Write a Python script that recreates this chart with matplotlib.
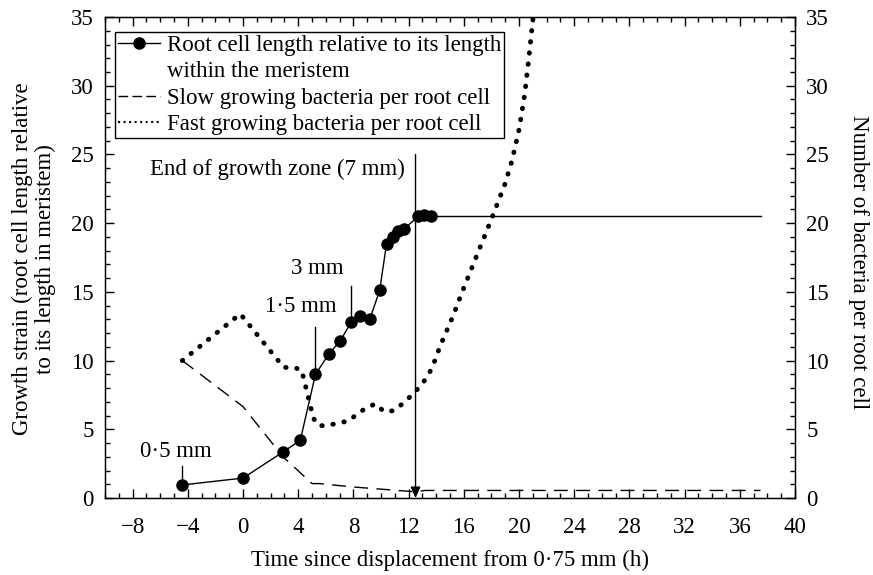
import numpy as np
import matplotlib
matplotlib.use("Agg")
import matplotlib.pyplot as plt
from matplotlib.lines import Line2D

plt.rcParams['font.family'] = ['Liberation Serif', 'DejaVu Serif']
plt.rcParams['font.size'] = 16.5

# 根细胞长度（相对分生组织内长度）
root_x = [-4.4, 0.0, 2.9, 4.15, 5.25, 6.2, 7.05, 7.85, 8.5, 9.2, 9.9, 10.4, 10.9, 11.2, 11.7, 12.7, 13.1, 13.6]
root_y = [0.95, 1.45, 3.35, 4.2, 9.0, 10.45, 11.45, 12.8, 13.25, 13.05, 15.1, 18.5, 19.0, 19.4, 19.6, 20.5, 20.6, 20.5]
plateau_x = [13.6, 37.5]
plateau_y = [20.5, 20.5]

# 慢生长细菌
slow_x = [-4.4, 0.0, 2.9, 5.0, 5.5, 8.0, 12.5, 13.2, 37.5]
slow_y = [10.0, 6.65, 3.0, 1.05, 1.05, 0.8, 0.45, 0.55, 0.55]

# 快生长细菌
fast_x = [-4.4, -0.2, 2.95, 3.7, 4.25, 5.1, 5.5, 6.2, 7.6, 8.9, 9.6, 10.2, 10.9, 11.55,
          12.3, 12.9, 13.4, 13.75, 14.3, 15.2, 16.0, 17.0, 18.0, 19.0, 19.5, 20.0, 20.4, 20.7, 21.0, 21.2]
fast_y = [10.0, 13.4, 9.5, 9.5, 9.3, 5.8, 5.25, 5.3, 5.6, 6.55, 6.85, 6.3, 6.35, 6.85,
          7.55, 8.2, 8.9, 9.6, 11.1, 13.2, 15.3, 17.8, 20.3, 22.9, 24.6, 26.8, 29.3, 31.9, 34.8, 36.5]

x_ticks = np.arange(-8, 41, 4)
y_ticks = np.arange(0, 36, 5)

fig = plt.figure(figsize=(8.73, 5.75), dpi=100)
ax = fig.add_axes([0.1203, 0.1339, 0.7904, 0.8365])

ax.plot(root_x, root_y, color='k', lw=1.0, marker='o', ms=8, zorder=4)
ax.plot(plateau_x, plateau_y, color='k', lw=1.0, zorder=3)
ax.plot(slow_x, slow_y, color='k', lw=1.0, dashes=(10, 6), zorder=3)
ax.plot(fast_x, fast_y, color='k', lw=3.5, linestyle=(0, (0.1, 2.2)),
        dash_capstyle='round', zorder=3)

# 生长区末端
ax.annotate('', xy=(12.5, 0.0), xytext=(12.5, 25.0),
            arrowprops=dict(arrowstyle='-|>,head_length=0.4,head_width=0.18', color='k', lw=1.0,
                            shrinkA=0, shrinkB=0))
ax.text(11.7, 23.9, 'End of growth zone (7 mm)', ha='right', va='center')

# 标注
ax.text(-4.9, 3.35, '0·5 mm', ha='center', va='center')
ax.plot([-4.4, -4.4], [1.3, 2.35], color='k', lw=1.0)
ax.text(4.2, 13.9, '1·5 mm', ha='center', va='center')
ax.plot([5.22, 5.22], [9.45, 12.45], color='k', lw=1.0)
ax.text(5.4, 16.7, '3 mm', ha='center', va='center')
ax.plot([7.85, 7.85], [13.2, 15.4], color='k', lw=1.0)

ax.set_xlim(-10, 40)
ax.set_ylim(0, 35)
ax.set_xticks(x_ticks)
ax.set_xticks(np.arange(-10, 41, 1), minor=True)
ax.set_yticks(y_ticks)
ax.set_yticks(np.arange(0, 36, 1), minor=True)
ax.tick_params(which='both', direction='in', top=True, right=False, width=1.0)
ax.tick_params(which='major', length=6.5)
ax.tick_params(which='minor', length=3.3)
ax.tick_params(axis='x', which='major', pad=14)
ax.tick_params(axis='y', which='major', pad=8)
for s in ax.spines.values():
    s.set_linewidth(1.0)

ax2 = ax.twinx()
ax2.set_ylim(0, 35)
ax2.set_yticks(y_ticks)
ax2.set_yticks(np.arange(0, 36, 1), minor=True)
ax2.tick_params(which='both', direction='in', width=1.0)
ax2.tick_params(which='major', length=6.5, pad=8)
ax2.tick_params(which='minor', length=3.3)

ax.set_xlabel('Time since displacement from 0·75 mm (h)', labelpad=8)
fig.text(34 / 873, 1 - 259 / 575, 'Growth strain (root cell length relative\nto its length in meristem)',
         rotation=90, ha='center', va='center', multialignment='center', linespacing=1.1)
fig.text(858 / 873, 1 - 262 / 575, 'Number of bacteria per root cell',
         rotation=-90, ha='center', va='center')

h1 = Line2D([], [], color='k', lw=1.0, marker='o', ms=8)
h_blank = Line2D([], [], color='none')
h2 = Line2D([], [], color='k', lw=1.0, dashes=(7, 3))
h3 = Line2D([], [], color='k', lw=1.5, linestyle=':')
leg = ax.legend([h1, h_blank, h2, h3],
                ['Root cell length relative to its length', 'within the meristem',
                 'Slow growing bacteria per root cell', 'Fast growing bacteria per root cell'],
                loc='upper left', bbox_to_anchor=(0.0145, 0.969), borderaxespad=0,
                frameon=True, fancybox=False, edgecolor='k', framealpha=1,
                borderpad=0.15, handlelength=1.8, handletextpad=0.3, labelspacing=0.22)
leg.get_frame().set_linewidth(1.0)

fig.savefig('out.png', dpi=100)
